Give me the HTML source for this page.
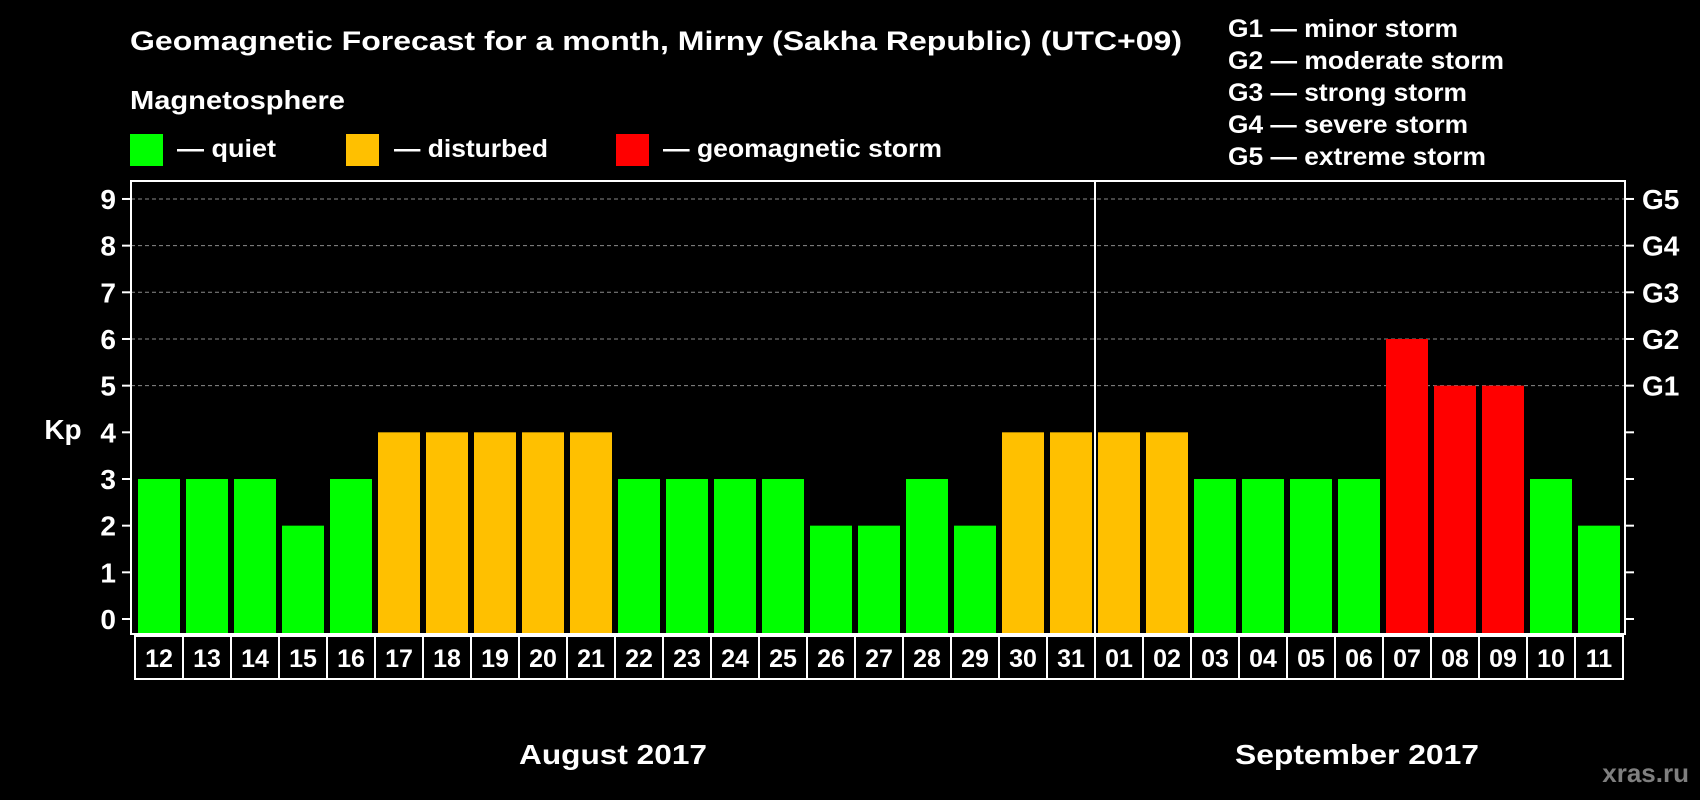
<!DOCTYPE html>
<html><head><meta charset="utf-8"><style>
html,body{margin:0;padding:0;background:#000;}
svg{display:block;font-family:"Liberation Sans",Arial,sans-serif;font-weight:bold;}
</style></head><body>
<svg id="chart" width="1700" height="800" viewBox="0 0 1700 800" xmlns="http://www.w3.org/2000/svg">
<rect width="1700" height="800" fill="#000"/>
<text x="130" y="50" fill="#fff" font-size="27" textLength="1052" lengthAdjust="spacingAndGlyphs">Geomagnetic Forecast for a month, Mirny (Sakha Republic) (UTC+09)</text>
<text x="130" y="109" fill="#fff" font-size="26" textLength="215" lengthAdjust="spacingAndGlyphs">Magnetosphere</text>
<rect x="130" y="134" width="33" height="32" fill="#00ff00"/>
<text x="177" y="157" fill="#fff" font-size="25" textLength="99" lengthAdjust="spacingAndGlyphs">— quiet</text>
<rect x="346" y="134" width="33" height="32" fill="#ffc000"/>
<text x="394" y="157" fill="#fff" font-size="25" textLength="154" lengthAdjust="spacingAndGlyphs">— disturbed</text>
<rect x="616" y="134" width="33" height="32" fill="#ff0000"/>
<text x="663" y="157" fill="#fff" font-size="25" textLength="279" lengthAdjust="spacingAndGlyphs">— geomagnetic storm</text>
<g font-size="25" fill="#fff">
<text x="1228" y="37" textLength="230" lengthAdjust="spacingAndGlyphs">G1 — minor storm</text>
<text x="1228" y="69" textLength="276" lengthAdjust="spacingAndGlyphs">G2 — moderate storm</text>
<text x="1228" y="101" textLength="239" lengthAdjust="spacingAndGlyphs">G3 — strong storm</text>
<text x="1228" y="133" textLength="240" lengthAdjust="spacingAndGlyphs">G4 — severe storm</text>
<text x="1228" y="165" textLength="258" lengthAdjust="spacingAndGlyphs">G5 — extreme storm</text>
</g>
<text x="63" y="439" fill="#fff" font-size="28" text-anchor="middle">Kp</text>
<text x="613" y="764" fill="#fff" font-size="28" text-anchor="middle" textLength="188" lengthAdjust="spacingAndGlyphs">August 2017</text>
<text x="1357" y="764" fill="#fff" font-size="28" text-anchor="middle" textLength="244" lengthAdjust="spacingAndGlyphs">September 2017</text>
<text x="1689" y="782" fill="#7f7f7f" font-size="26" text-anchor="end">xras.ru</text>
<g id="grid"></g><g id="bars"></g><g id="axes"></g>
</svg>
<script>
const days = ["12","13","14","15","16","17","18","19","20","21","22","23","24","25","26","27","28","29","30","31","01","02","03","04","05","06","07","08","09","10","11"];
const kpValues = [3,3,3,2,3,4,4,4,4,4,3,3,3,3,2,2,3,2,4,4,4,4,3,3,3,3,6,5,5,3,2];
const yTicks = [0,1,2,3,4,5,6,7,8,9];
const gLabels = ["G1","G2","G3","G4","G5"];
const gLevels = [5,6,7,8,9];
const monthBreakIndex = 20;

const NS = "http://www.w3.org/2000/svg";
const L = 131, R = 1625, T = 181, B = 634;
const y0 = 619, pxPerUnit = 46.67;
const slot = 48, barW = 42, firstBar = 138;
function yScale(v){ return y0 - v * pxPerUnit; }
function xScale(i){ return firstBar + i * slot; }
function colorFor(v){ return v >= 5 ? "#ff0000" : (v >= 4 ? "#ffc000" : "#00ff00"); }
function mk(tag, attrs, parent){ const e = document.createElementNS(NS, tag); for (const k in attrs) e.setAttribute(k, attrs[k]); parent.appendChild(e); return e; }

const grid = document.getElementById("grid"), bars = document.getElementById("bars"), axes = document.getElementById("axes");
gLevels.forEach(v => {
  const ln = mk("line", {x1:L, x2:R, y1:yScale(v), y2:yScale(v), stroke:"#8a8a8a", "stroke-width":1, "stroke-dasharray":"4,3"}, grid);
  
  
});
kpValues.forEach((v, i) => {
  const r = mk("rect", {x:xScale(i), y:yScale(v), width:barW, height:B - yScale(v), fill:colorFor(v)}, bars);
  
  
  const box = mk("rect", {x:xScale(i) - 3, y:636, width:slot, height:43, fill:"none", stroke:"#fff", "stroke-width":2}, axes);
  
  
  const t = mk("text", {x:xScale(i) + barW/2, y:667, fill:"#fff", "font-size":25, "text-anchor":"middle"}, axes);
  t.textContent = days[i];
  
  
});
const frame = mk("rect", {x:L, y:T, width:R - L, height:B - T, fill:"none", stroke:"#fff", "stroke-width":2}, axes);


const div = mk("line", {x1:xScale(monthBreakIndex) - 3, x2:xScale(monthBreakIndex) - 3, y1:T, y2:B, stroke:"#fff", "stroke-width":2}, axes);


yTicks.forEach(v => {
  const y = yScale(v);
  const tl = mk("line", {x1:L - 9, x2:L, y1:y, y2:y, stroke:"#fff", "stroke-width":2}, axes);
  
  
  const tr = mk("line", {x1:R, x2:R + 9, y1:y, y2:y, stroke:"#fff", "stroke-width":2}, axes);
  
  
  const t = mk("text", {x:116, y:y + 10, fill:"#fff", "font-size":28, "text-anchor":"end"}, axes);
  t.textContent = v;
  
  
});
gLevels.forEach((v, i) => {
  const t = mk("text", {x:1642, y:yScale(v) + 10, fill:"#fff", "font-size":28}, axes);
  t.textContent = gLabels[i];
  
  
});
</script>
</body></html>
